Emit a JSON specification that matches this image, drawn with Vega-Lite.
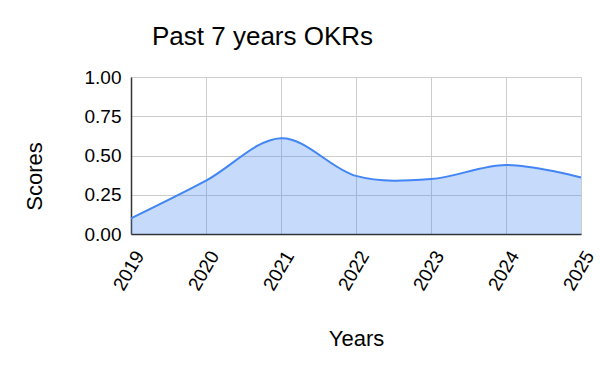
{
  "$schema": "https://vega.github.io/schema/vega-lite/v6.json",
  "autosize": "none",
  "padding": {"left": 131, "top": 77, "right": 19, "bottom": 137},
  "width": 450,
  "height": 157,
  "background": "white",
  "config": {
    "font": "Liberation Sans",
    "view": {"stroke": null},
    "axis": {
      "labelFont": "Liberation Sans",
      "titleFont": "Liberation Sans",
      "labelColor": "#000000",
      "titleColor": "#000000",
      "titleFontWeight": "normal",
      "gridColor": "#cccccc",
      "gridWidth": 1,
      "domainColor": "#333333",
      "domainWidth": 1.5,
      "ticks": false
    }
  },
  "title": {
    "text": "Past 7 years OKRs",
    "font": "Liberation Sans",
    "fontSize": 26,
    "fontWeight": "normal",
    "color": "#000000",
    "anchor": "start",
    "frame": "group",
    "dx": 21,
    "baseline": "alphabetic",
    "offset": -3
  },
  "data": {
    "values": [
      {"year": 2019, "score": 0.10},
      {"year": 2020, "score": 0.34},
      {"year": 2021, "score": 0.61},
      {"year": 2022, "score": 0.37},
      {"year": 2023, "score": 0.35},
      {"year": 2024, "score": 0.44},
      {"year": 2025, "score": 0.36}
    ]
  },
  "mark": {
    "type": "area",
    "interpolate": "cardinal",
    "color": "#4285F4",
    "fillOpacity": 0.3,
    "line": {"color": "#4285F4", "strokeWidth": 2}
  },
  "encoding": {
    "x": {
      "field": "year",
      "type": "quantitative",
      "scale": {"domain": [2019, 2025], "nice": false, "zero": false},
      "axis": {
        "title": "Years",
        "values": [2019, 2020, 2021, 2022, 2023, 2024, 2025],
        "format": "d",
        "labelAngle": -60,
        "labelFontSize": 19,
        "labelPadding": 18,
        "labelOffset": 8,
        "titleFontSize": 22,
        "titleBaseline": "alphabetic",
        "titleY": 111
      }
    },
    "y": {
      "field": "score",
      "type": "quantitative",
      "scale": {"domain": [0, 1], "nice": false},
      "axis": {
        "title": "Scores",
        "values": [0, 0.25, 0.5, 0.75, 1],
        "format": ".2f",
        "labelFontSize": 19,
        "labelPadding": 10,
        "titleFontSize": 22,
        "titleBaseline": "middle",
        "titleX": -97,
        "titleY": 99
      }
    }
  }
}
